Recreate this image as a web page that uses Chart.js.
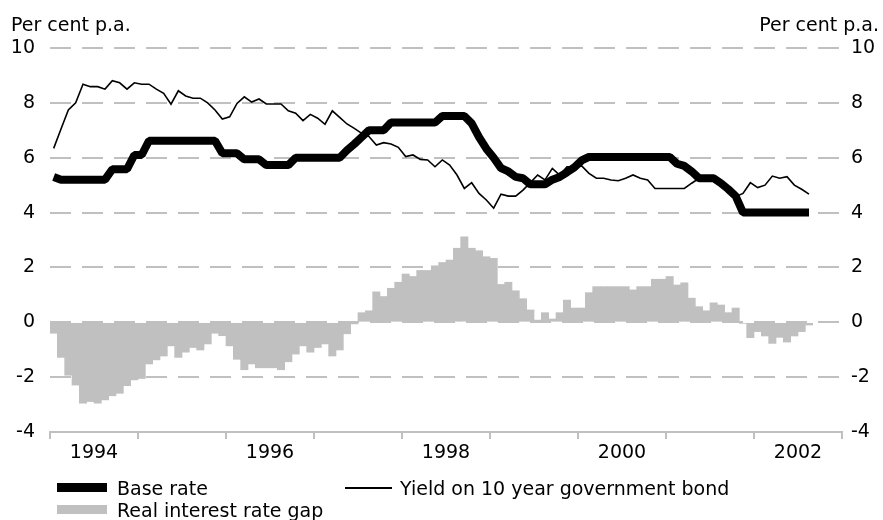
<!DOCTYPE html>
<html>
<head>
<meta charset="utf-8">
<title>Base rate, bond yield and real interest rate gap</title>
<script src="https://cdn.jsdelivr.net/npm/chart.js@4"></script>
<style>
  html, body { margin: 0; padding: 0; background: #fff; }
  #wrap { position: relative; width: 883px; height: 520px; font-family: "DejaVu Sans", sans-serif; }
  #chart { position: absolute; left: 0; top: 0; }
  .item { position: absolute; display: flex; align-items: center; height: 23px; font-size: 19px; color: #000; white-space: nowrap; }
  .swatch { margin-right: 10px; }
</style>
</head>
<body>
<div id="wrap">
  <canvas id="chart" width="883" height="520"></canvas>
  <div id="legend"></div>
</div>
<script>
// monthly, Jan 1994 - Aug 2002 (axis runs to Dec 2002)
const years = [1994, 1995, 1996, 1997, 1998, 1999, 2000, 2001, 2002];
const monthNames = ['Jan', 'Feb', 'Mar', 'Apr', 'May', 'Jun', 'Jul', 'Aug', 'Sep', 'Oct', 'Nov', 'Dec'];
const yearLabels = ['1994', '1996', '1998', '2000', '2002'];
const unitLabel = 'Per cent p.a.';

const baseRate = [
  5.3, 5.2, 5.2, 5.2, 5.2, 5.2, 5.2, 5.2, 5.58, 5.58, 5.58, 6.1,
  6.1, 6.62, 6.62, 6.62, 6.62, 6.62, 6.62, 6.62, 6.62, 6.62, 6.62, 6.16,
  6.16, 6.16, 5.94, 5.94, 5.94, 5.73, 5.73, 5.73, 5.73, 6.0, 6.0, 6.0,
  6.0, 6.0, 6.0, 6.0, 6.27, 6.5, 6.75, 7.0, 7.0, 7.0, 7.28, 7.28,
  7.28, 7.28, 7.28, 7.28, 7.28, 7.52, 7.52, 7.52, 7.52, 7.25, 6.75, 6.33,
  6.0, 5.62, 5.5, 5.3, 5.25, 5.03, 5.03, 5.03, 5.2, 5.3, 5.47, 5.65,
  5.9, 6.03, 6.03, 6.03, 6.03, 6.03, 6.03, 6.03, 6.03, 6.03, 6.03, 6.03,
  6.03, 5.78, 5.7, 5.5, 5.25, 5.25, 5.25, 5.07, 4.85, 4.6, 4.0, 4.0,
  4.0, 4.0, 4.0, 4.0, 4.0, 4.0, 4.0, 4.0
];

const bondYield = [
  6.34, 7.05, 7.74, 8.0, 8.68, 8.59, 8.59, 8.5, 8.81, 8.73, 8.5, 8.73,
  8.68, 8.68, 8.5, 8.35, 7.95, 8.44, 8.25, 8.17, 8.17, 8.0, 7.74, 7.41,
  7.49, 7.98, 8.22, 8.03, 8.14, 7.96, 7.96, 7.96, 7.71, 7.62, 7.35, 7.58,
  7.44, 7.22, 7.71, 7.47, 7.23, 7.07, 6.89, 6.77, 6.46, 6.55, 6.5, 6.38,
  6.04, 6.1, 5.94, 5.92, 5.67, 5.92, 5.73, 5.37, 4.88, 5.09, 4.7, 4.46,
  4.16, 4.67, 4.6, 4.6, 4.82, 5.09, 5.37, 5.19, 5.61, 5.37, 5.67, 5.67,
  5.7, 5.43, 5.25, 5.25, 5.19, 5.16, 5.25, 5.37, 5.25, 5.19, 4.88, 4.88,
  4.88, 4.88, 4.88, 5.07, 5.25, 5.2, 5.15, 5.05, 4.8, 4.58, 4.7, 5.09,
  4.91, 5.0, 5.33, 5.25, 5.31, 5.0, 4.85, 4.67
];

const rateGap = [
  -0.4, -1.28, -1.93, -2.29, -2.95, -2.89, -2.95, -2.83, -2.68, -2.59, -2.31, -2.1,
  -2.05, -1.52, -1.37, -1.23, -0.86, -1.28, -1.09, -0.92, -1.01, -0.79, -0.4, -0.49,
  -0.86, -1.35, -1.73, -1.52, -1.66, -1.66, -1.66, -1.73, -1.44, -1.16, -0.86, -1.09,
  -0.92, -0.79, -1.23, -1.01, -0.42, -0.06, 0.35, 0.42, 1.11, 0.94, 1.24, 1.46,
  1.76, 1.67, 1.89, 1.89, 2.06, 2.18, 2.27, 2.7, 3.12, 2.7, 2.61, 2.39,
  2.33, 1.38, 1.46, 1.15, 0.86, 0.45, 0.08, 0.35, 0.12, 0.35, 0.81, 0.52,
  0.52, 1.08, 1.3, 1.3, 1.3, 1.3, 1.3, 1.18, 1.3, 1.3, 1.57, 1.57,
  1.67, 1.36, 1.44, 0.88, 0.57, 0.42, 0.71, 0.63, 0.35, 0.52, -0.04, -0.56,
  -0.34, -0.5, -0.77, -0.55, -0.72, -0.5, -0.34, -0.1
];

const labels = [];
years.forEach(y => monthNames.forEach(m => labels.push(m + ' ' + y)));

const GRID = '#c0c0c0';
const BAR = '#c0c0c0';

Chart.defaults.font.family = '"DejaVu Sans", sans-serif';
Chart.defaults.font.size = 19;
Chart.defaults.color = '#000';

// "Per cent p.a." above both value axes
const unitsPlugin = {
  id: 'units',
  afterDraw(chart) {
    const { ctx, chartArea } = chart;
    ctx.save();
    ctx.font = '19px "DejaVu Sans", sans-serif';
    ctx.fillStyle = '#000';
    ctx.textBaseline = 'alphabetic';
    ctx.textAlign = 'left';
    ctx.fillText(unitLabel, chart.scales.y.left + 11, chartArea.top - 17);
    ctx.textAlign = 'right';
    ctx.fillText(unitLabel, chart.scales.y2.right - 4, chartArea.top - 17);
    ctx.restore();
  }
};

const chart = new Chart(document.getElementById('chart'), {
  type: 'bar',
  data: {
    labels: labels,
    datasets: [
      {
        type: 'line',
        label: 'Base rate',
        data: baseRate,
        borderColor: '#000',
        backgroundColor: '#000',
        borderWidth: 8,
        borderJoinStyle: 'bevel',
        pointRadius: 0,
        tension: 0,
        order: 1
      },
      {
        type: 'line',
        label: 'Yield on 10 year government bond',
        data: bondYield,
        borderColor: '#000',
        backgroundColor: '#000',
        borderWidth: 1.6,
        pointRadius: 0,
        tension: 0,
        order: 2
      },
      {
        type: 'bar',
        label: 'Real interest rate gap',
        data: rateGap,
        backgroundColor: BAR,
        borderWidth: 0,
        barPercentage: 1,
        categoryPercentage: 1,
        order: 3
      }
    ]
  },
  options: {
    responsive: false,
    animation: false,
    layout: { padding: { top: 48, left: 0, right: 0, bottom: 0 } },
    plugins: {
      legend: { display: false },
      tooltip: { enabled: false }
    },
    scales: {
      x: {
        offset: true,
        grid: {
          offset: true,
          drawOnChartArea: false,
          drawTicks: true,
          tickLength: 7,
          lineWidth: 2,
          color: c => (c.index === undefined || c.index % 12 === 0) ? GRID : 'rgba(0,0,0,0)'
        },
        border: { display: true, color: GRID, width: 2 },
        ticks: {
          autoSkip: false,
          maxRotation: 0,
          minRotation: 0,
          padding: 3,
          labelOffset: -3.67,
          callback: (v, i) => {
            if (i % 12 !== 6) return '';
            const y = String(years[Math.floor(i / 12)]);
            return yearLabels.includes(y) ? y : '';
          }
        },
        afterFit: s => { s.height = 88; }
      },
      y: {
        position: 'left',
        min: -4,
        max: 10,
        ticks: { stepSize: 2, padding: 15 },
        grid: { color: GRID, lineWidth: 2, drawTicks: false },
        border: { display: false, dash: [21, 11] },
        afterFit: s => { s.width = 50; }
      },
      y2: {
        position: 'right',
        min: -4,
        max: 10,
        ticks: { stepSize: 2, padding: 9 },
        grid: { display: false, drawTicks: false },
        border: { display: false },
        afterFit: s => { s.width = 41; }
      }
    }
  },
  plugins: [unitsPlugin]
});

// legend laid out like the original: two rows under the axis
const legendPos = [
  { left: 57, top: 476 },
  { left: 345, top: 476 },
  { left: 57, top: 498 }
];
const legend = document.getElementById('legend');
chart.data.datasets.forEach((ds, i) => {
  const item = document.createElement('div');
  item.className = 'item';
  item.style.left = legendPos[i].left + 'px';
  item.style.top = legendPos[i].top + 'px';
  const sw = document.createElement('span');
  sw.className = 'swatch';
  if (ds.type === 'line' && ds.borderWidth < 4) {
    sw.style.width = '47px';
    sw.style.height = '2px';
    sw.style.background = ds.borderColor;
    sw.style.marginRight = '8px';
  } else {
    sw.style.width = '50px';
    sw.style.height = '9px';
    sw.style.background = ds.type === 'line' ? ds.borderColor : ds.backgroundColor;
  }
  item.appendChild(sw);
  item.appendChild(document.createTextNode(ds.label));
  legend.appendChild(item);
});
</script>
</body>
</html>
